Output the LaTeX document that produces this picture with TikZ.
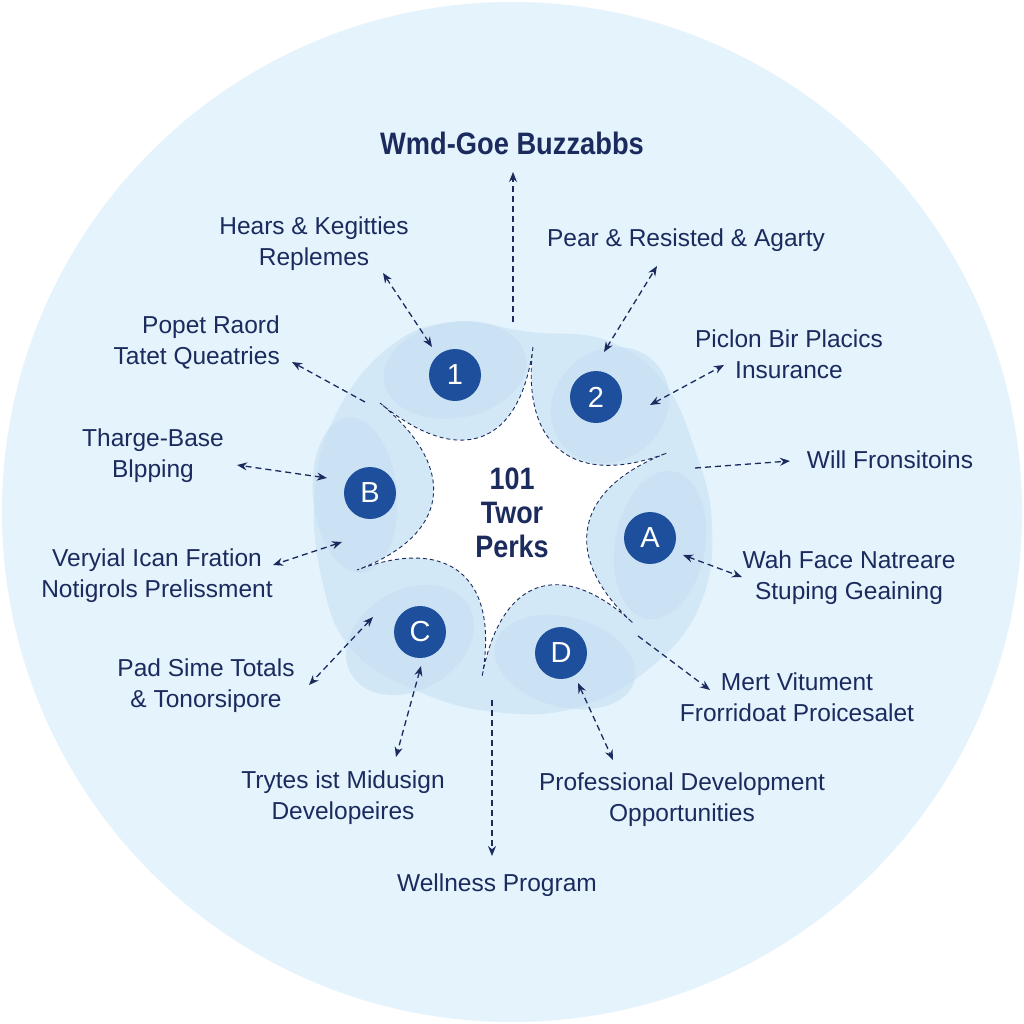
\documentclass[tikz,border=0pt]{standalone}
\usepackage{fontspec}
\setmainfont{Liberation Sans}
\usetikzlibrary{arrows.meta,calc}
\definecolor{navy}{HTML}{1B2B5E}
\definecolor{discblue}{HTML}{1D4F9C}
\definecolor{bgblue}{HTML}{E4F3FC}
\definecolor{ringblue}{HTML}{D3E8F7}
\definecolor{blobblue}{HTML}{C6DFF3}
\tikzset{
  lbl/.style={text=navy,font=\fontsize{24.5}{31}\selectfont,align=center,inner sep=0pt},
  disc/.style={circle,fill=discblue,text=white,minimum size=52pt,inner sep=0pt,font=\fontsize{29}{29}\selectfont},
  link/.style={draw=navy,line width=1.3pt,dash pattern=on 6pt off 4pt},
  blob/.style={fill=blobblue,opacity=0.6},
}
\begin{document}
\begin{tikzpicture}[x=1pt,y=-1pt,>={Stealth[length=10pt,width=8pt]}]
\useasboundingbox (0,0) rectangle (1024,1024);
\fill[white] (0,0) rectangle (1024,1024);
\fill[bgblue] (512,512) circle (510);
% ring of blobs
\fill[ringblue] plot[smooth cycle,tension=0.7] coordinates {(455,322) (530,332) (605,340) (662,380) (695,450) (712,525) (700,605) (650,668) (575,708) (495,712) (420,692) (352,650) (322,580) (315,490) (338,410) (392,345)};
\fill[blob] (455,370) ellipse[x radius=72,y radius=48,rotate=10];
\fill[blob] (610,405) ellipse[x radius=62,y radius=55,rotate=40];
\fill[blob] (660,545) ellipse[x radius=45,y radius=75,rotate=-10];
\fill[blob] (565,662) ellipse[x radius=72,y radius=45,rotate=-15];
\fill[blob] (410,640) ellipse[x radius=68,y radius=50,rotate=30];
\fill[blob] (355,495) ellipse[x radius=42,y radius=78,rotate=5];
% star centre
\coordinate (O) at (512,512);
\coordinate (s1) at (533,347);
\coordinate (s2) at (667,453);
\coordinate (s3) at (633,623);
\coordinate (s4) at (482,677);
\coordinate (s5) at (357,570);
\coordinate (s6) at (380,403);
\filldraw[fill=white,draw=navy,line width=0.9pt,dash pattern=on 4pt off 3pt]
  (s1) .. controls ($(s1)!0.6!(O)$) and ($(s2)!0.6!(O)$) .. (s2)
       .. controls ($(s2)!0.6!(O)$) and ($(s3)!0.6!(O)$) .. (s3)
       .. controls ($(s3)!0.6!(O)$) and ($(s4)!0.6!(O)$) .. (s4)
       .. controls ($(s4)!0.6!(O)$) and ($(s5)!0.6!(O)$) .. (s5)
       .. controls ($(s5)!0.6!(O)$) and ($(s6)!0.6!(O)$) .. (s6)
       .. controls ($(s6)!0.6!(O)$) and ($(s1)!0.6!(O)$) .. (s1);
\node[text=navy,align=center,font=\fontsize{31}{34}\selectfont\bfseries] (hub) at (512,513)
  {\scalebox{0.87}[1]{101}\\\scalebox{0.87}[1]{Twor}\\\scalebox{0.87}[1]{Perks}};
% discs
\node[disc] (one) at (455,375) {1};
\node[disc] (two) at (596,397) {2};
\node[disc] (pa) at (650,538) {A};
\node[disc] (pd) at (561,653) {D};
\node[disc] (pc) at (420,632) {C};
\node[disc] (pb) at (370,493) {B};
% labels
\node[text=navy,inner sep=0pt,font=\fontsize{31}{31}\selectfont\bfseries] (title) at (512,143) {\scalebox{0.88}[1]{Wmd-Goe Buzzabbs}};
\node[lbl] (hears) at (314,244) {Hears \& Kegitties\\Replemes};
\node[lbl] (pear) at (686,240) {Pear \& Resisted \& Agarty};
\node[lbl,align=right,anchor=east] (popet) at (280,342) {Popet Raord\\Tatet Queatries};
\node[lbl] (tharge) at (153,456) {Tharge-Base\\Blpping};
\node[lbl] (piclon) at (789,354) {Piclon Bir Placics\\Insurance};
\node[lbl] (will) at (890,460) {Will Fronsitoins};
\node[lbl] (veryial) at (157,576) {Veryial Ican Fration\\Notigrols Prelissment};
\node[lbl] (wah) at (849,578) {Wah Face Natreare\\Stuping Geaining};
\node[lbl] (pad) at (206,686) {Pad Sime Totals\\\& Tonorsipore};
\node[lbl] (mert) at (797,697) {Mert Vitument\\Frorridoat Proicesalet};
\node[lbl] (trytes) at (343,798) {Trytes ist Midusign\\Developeires};
\node[lbl] (prof) at (682,800) {Professional Development\\Opportunities};
\node[lbl] (well) at (497,885) {Wellness Program};
% connector ends
\coordinate (a1) at (513,322); \coordinate (a2) at (513,172);
\coordinate (b1) at (432,347); \coordinate (b2) at (383,273);
\coordinate (c1) at (604,352); \coordinate (c2) at (657,266);
\coordinate (d1) at (365,402); \coordinate (d2) at (292,362);
\coordinate (e1) at (327,478); \coordinate (e2) at (237,465);
\coordinate (f1) at (650,405); \coordinate (f2) at (724,365);
\coordinate (g1) at (695,468); \coordinate (g2) at (790,461);
\coordinate (h1) at (342,542); \coordinate (h2) at (273,565);
\coordinate (i1) at (683,555); \coordinate (i2) at (742,577);
\coordinate (j1) at (373,617); \coordinate (j2) at (309,685);
\coordinate (k1) at (638,636); \coordinate (k2) at (710,690);
\coordinate (l1) at (421,666); \coordinate (l2) at (396,757);
\coordinate (m1) at (492,700); \coordinate (m2) at (492,856);
\coordinate (n1) at (578,683); \coordinate (n2) at (613,760);
\draw[link,->] (a1) -- (a2);
\draw[link,<->] (b1) -- (b2);
\draw[link,<->] (c1) -- (c2);
\draw[link,->] (d1) -- (d2);
\draw[link,<->] (e1) -- (e2);
\draw[link,<->] (f1) -- (f2);
\draw[link,->] (g1) -- (g2);
\draw[link,<->] (h1) -- (h2);
\draw[link,<->] (i1) -- (i2);
\draw[link,<->] (j1) -- (j2);
\draw[link,->] (k1) -- (k2);
\draw[link,<->] (l1) -- (l2);
\draw[link,->] (m1) -- (m2);
\draw[link,<->] (n1) -- (n2);
\end{tikzpicture}
\end{document}
